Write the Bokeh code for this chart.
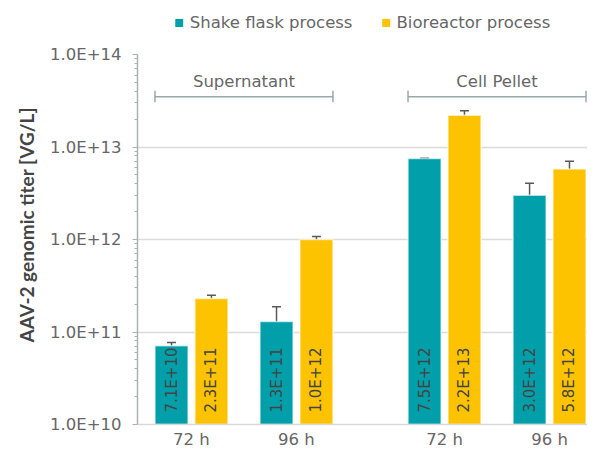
import math
from bokeh.plotting import figure
from bokeh.layouts import column
from bokeh.models import (ColumnDataSource, Range1d, FixedTicker, CustomJSTickFormatter,
                          Whisker, TeeHead, Legend, LegendItem, Title)
from bokeh.core.properties import value
from bokeh.embed import file_html
from bokeh.resources import INLINE

# ---------------- data ----------------
groups = ["Supernatant", "Cell Pellet"]
times = ["72 h", "96 h"]
series = ["Shake flask process", "Bioreactor process"]
shake = [7.1e10, 1.3e11, 7.5e12, 3.0e12]
shake_err = [0.6e10, 0.57e11, 0.05e12, 1.05e12]
bio = [2.3e11, 1.0e12, 2.2e13, 5.8e12]
bio_err = [0.2e11, 0.08e12, 0.27e13, 1.2e12]
shake_lbl = ["7.1E+10", "1.3E+11", "7.5E+12", "3.0E+12"]
bio_lbl = ["2.3E+11", "1.0E+12", "2.2E+13", "5.8E+12"]
y_ticks = [1e10, 1e11, 1e12, 1e13, 1e14]
y_title = "AAV-2 genomic titer [VG/L]"

# ---------------- style ----------------
TEAL = "#009fa9"
GOLD = "#fdc300"
TXT = "#666666"
FONT = "DejaVu Sans"
TFONT = "Lato"
GAP = 0.41
DODGE = 0.19
BW = 0.315
FW, FH = 450, 370
LEG_H = 44

pos = [g * (len(times) + GAP) + t for g in range(len(groups)) for t in range(len(times))]
xlabels = [t for g in groups for t in times]

# ---------------- legend strip ----------------
lg = figure(frame_width=FW, frame_height=LEG_H, x_axis_type=None, y_axis_type=None,
            x_range=Range1d(0, 1), y_range=Range1d(0, 1),
            output_backend="svg", toolbar_location=None,
            min_border_left=137, min_border_right=0, min_border_top=0, min_border_bottom=0)
lg.outline_line_color = None
lg.xgrid.visible = False
lg.ygrid.visible = False
# off-range placeholder marks, only used to give the legend its swatches
hidden = ColumnDataSource(dict(x=[-5.0], top=[0.0]))
d1 = lg.vbar(x="x", top="top", width=0.1, source=hidden, fill_color=TEAL, line_color=None)
d2 = lg.vbar(x="x", top="top", width=0.1, source=hidden, fill_color=GOLD, line_color=None)
legend = Legend(items=[LegendItem(label=series[0], renderers=[d1]),
                       LegendItem(label=series[1], renderers=[d2])],
                orientation="horizontal", location="center", margin=0, padding=0,
                spacing=28, label_standoff=6, glyph_width=10, glyph_height=10,
                label_text_font=FONT, label_text_font_size="16.5px", label_text_color=TXT,
                border_line_color=None, background_fill_alpha=0)
lg.add_layout(legend, "center")

# ---------------- main chart ----------------
p = figure(frame_width=FW, frame_height=FH, y_axis_type="log",
           x_range=Range1d(-0.514, -0.514 + FW / 105), y_range=Range1d(1e10, 1e14),
           output_backend="svg", toolbar_location=None,
           min_border_left=137, min_border_right=0, min_border_top=54 - LEG_H, min_border_bottom=0)
p.outline_line_color = None
p.background_fill_color = "white"
p.border_fill_color = "white"

src = ColumnDataSource(dict(
    xs=[x - DODGE for x in pos], xb=[x + DODGE for x in pos],
    shake=shake, bio=bio,
    s_up=[v + e for v, e in zip(shake, shake_err)], s_lo=[v - e for v, e in zip(shake, shake_err)],
    b_up=[v + e for v, e in zip(bio, bio_err)], b_lo=[v - e for v, e in zip(bio, bio_err)],
    s_lbl=shake_lbl, b_lbl=bio_lbl,
))

p.vbar(x="xs", top="shake", bottom=1e10, width=BW, source=src,
       fill_color=TEAL, line_color="white", line_alpha=0.6, line_width=1.5)
p.vbar(x="xb", top="bio", bottom=1e10, width=BW, source=src,
       fill_color=GOLD, line_color="white", line_alpha=0.6, line_width=1.5)

for xcol, up, lo in (("xs", "s_up", "s_lo"), ("xb", "b_up", "b_lo")):
    w = Whisker(base=xcol, upper=up, lower=lo, source=src, dimension="height",
                line_color="#595959", line_width=1.5,
                upper_head=TeeHead(size=9, line_color="#595959", line_width=1.5),
                lower_head=TeeHead(size=9, line_color="#595959", line_width=1.5))
    p.add_layout(w)

lbl_base = 10 ** (10 + 12 / 92.5)
for xcol, tcol in (("xs", "s_lbl"), ("xb", "b_lbl")):
    p.text(x=xcol, y=lbl_base, text=tcol, source=src, angle=math.pi / 2,
           text_align="left", text_baseline="middle", text_color="#444444",
           text_font=value(FONT), text_font_size="15px")

# group brackets
br_y = 3.5e13
br_src = ColumnDataSource(dict(
    x0=[pos[g * len(times)] - DODGE - BW / 2 for g in range(len(groups))],
    x1=[pos[g * len(times) + len(times) - 1] + DODGE + BW / 2 for g in range(len(groups))],
    xc=[(pos[g * len(times)] + pos[g * len(times) + len(times) - 1]) / 2 for g in range(len(groups))],
    name=groups,
))
BRC = "#98aaa8"
p.segment(x0="x0", x1="x1", y0=br_y, y1=br_y, source=br_src, line_color=BRC, line_width=1.5)
p.segment(x0="x0", x1="x0", y0=3.05e13, y1=4.05e13, source=br_src, line_color=BRC, line_width=1.5)
p.segment(x0="x1", x1="x1", y0=3.05e13, y1=4.05e13, source=br_src, line_color=BRC, line_width=1.5)
p.text(x="xc", y=4.0e13, text="name", source=br_src, text_align="center", text_baseline="bottom",
       text_color=TXT, text_font=value(FONT), text_font_size="16.5px")

# axes
ya = p.yaxis[0]
ya.ticker = FixedTicker(ticks=y_ticks,
                        minor_ticks=[k * 10 ** e for e in range(10, 14) for k in range(2, 10)])
ya.formatter = CustomJSTickFormatter(code="return tick.toExponential(1).toUpperCase();")
ya.major_tick_out = 5
ya.major_tick_in = 0
ya.minor_tick_out = 3
ya.minor_tick_in = 0
ya.axis_line_color = "#a8b3b2"
ya.major_tick_line_color = "#a8b3b2"
ya.minor_tick_line_color = "#a8b3b2"
ya.axis_line_width = 1.5
ya.major_label_text_font = FONT
ya.major_label_text_font_size = "16.5px"
ya.major_label_text_color = TXT
ya.major_label_standoff = 11

p.add_layout(Title(text=y_title, align="left", offset=82, standoff=20,
                   text_font=TFONT, text_font_size="19px", text_font_style="bold",
                   text_color="#444444"), "left")

xa = p.xaxis[0]
xa.ticker = FixedTicker(ticks=pos)
xa.major_label_overrides = {x: l for x, l in zip(pos, xlabels)}
xa.major_tick_out = 0
xa.major_tick_in = 0
xa.minor_tick_out = 0
xa.minor_tick_in = 0
xa.major_tick_line_color = None
xa.minor_tick_line_color = None
xa.axis_line_color = "#d9d9d9"
xa.axis_line_width = 1.5
xa.major_label_text_font = FONT
xa.major_label_text_font_size = "16.5px"
xa.major_label_text_color = TXT
xa.major_label_standoff = 5

p.xgrid.grid_line_color = None
p.ygrid.grid_line_color = "#dcdcdc"
p.ygrid.grid_line_width = 1.5
p.ygrid.minor_grid_line_color = None

open("out.html", "w").write(file_html(column(lg, p, spacing=0), INLINE))
